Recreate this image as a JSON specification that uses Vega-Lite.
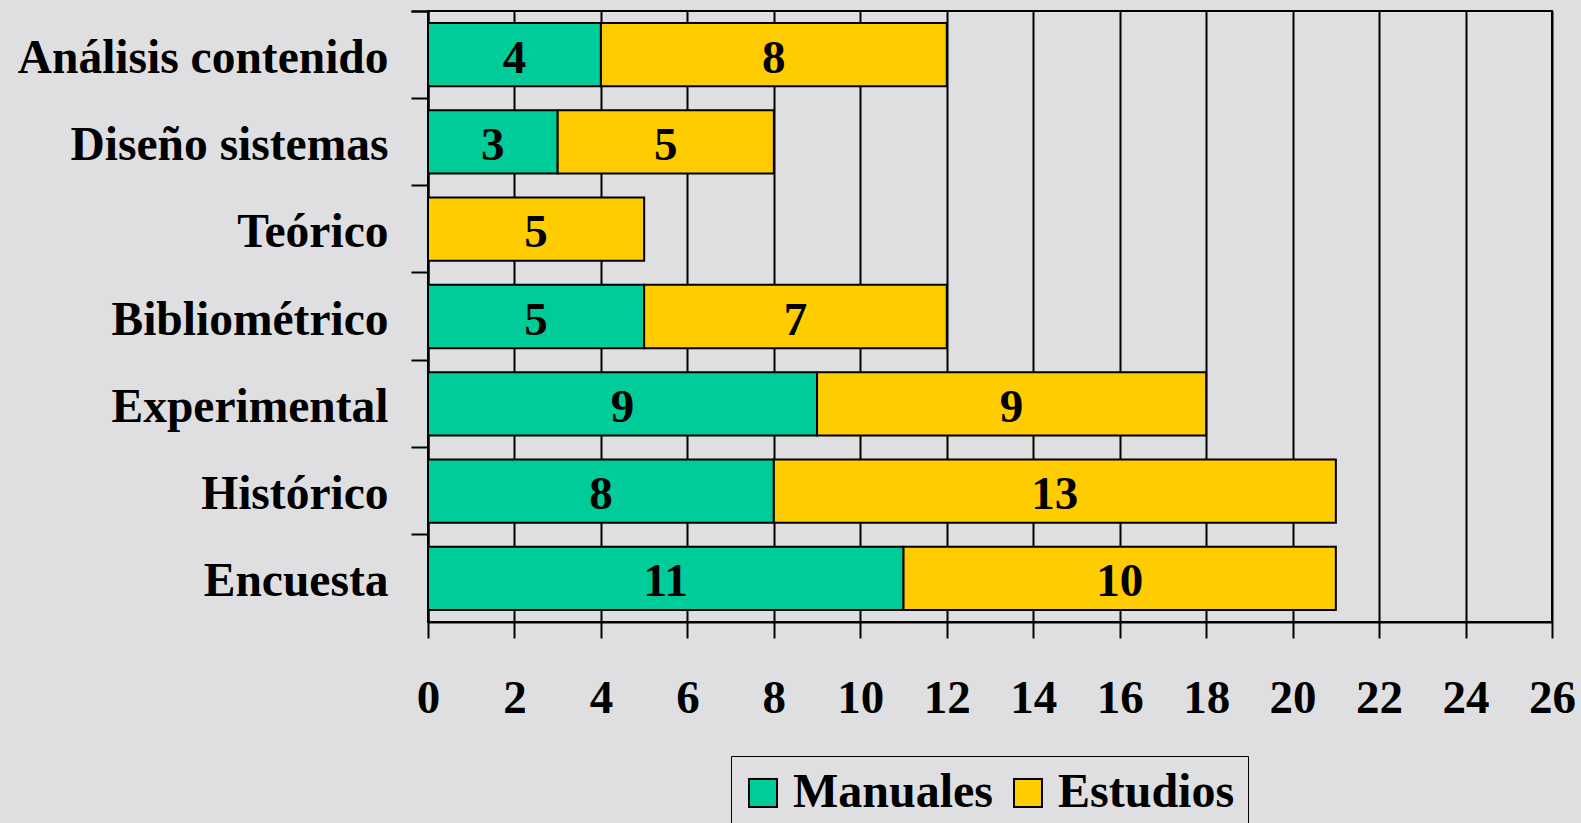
{
  "$schema": "https://vega.github.io/schema/vega-lite/v6.json",
  "width": 1124,
  "height": 611,
  "autosize": {"type": "none"},
  "padding": {"left": 428, "top": 11, "right": 29, "bottom": 201},
  "background": "#dfdfe1",
  "config": {
    "view": {"stroke": "black", "strokeWidth": 2},
    "font": "Liberation Serif"
  },
  "data": {
    "values": [
      {"metodo": "Análisis contenido", "serie": "Manuales", "n": 4},
      {"metodo": "Análisis contenido", "serie": "Estudios", "n": 8},
      {"metodo": "Diseño sistemas", "serie": "Manuales", "n": 3},
      {"metodo": "Diseño sistemas", "serie": "Estudios", "n": 5},
      {"metodo": "Teórico", "serie": "Estudios", "n": 5},
      {"metodo": "Bibliométrico", "serie": "Manuales", "n": 5},
      {"metodo": "Bibliométrico", "serie": "Estudios", "n": 7},
      {"metodo": "Experimental", "serie": "Manuales", "n": 9},
      {"metodo": "Experimental", "serie": "Estudios", "n": 9},
      {"metodo": "Histórico", "serie": "Manuales", "n": 8},
      {"metodo": "Histórico", "serie": "Estudios", "n": 13},
      {"metodo": "Encuesta", "serie": "Manuales", "n": 11},
      {"metodo": "Encuesta", "serie": "Estudios", "n": 10}
    ]
  },
  "encoding": {
    "y": {
      "field": "metodo",
      "type": "nominal",
      "sort": ["Análisis contenido", "Diseño sistemas", "Teórico", "Bibliométrico", "Experimental", "Histórico", "Encuesta"],
      "scale": {"paddingInner": 0, "paddingOuter": 0},
      "axis": {
        "title": null,
        "bandPosition": 0,
        "tickExtra": true,
        "tickSize": 17,
        "tickColor": "black",
        "tickWidth": 2,
        "domainColor": "black",
        "domainWidth": 2,
        "labelFont": "Liberation Serif",
        "labelFontSize": 47.5,
        "labelFontWeight": "bold",
        "labelColor": "black",
        "labelPadding": 23,
        "labelOffset": 4,
        "labelLimit": 600,
        "grid": false
      }
    }
  },
  "layer": [
    {
      "mark": {"type": "bar", "height": {"band": 0.725}, "stroke": "black", "strokeWidth": 2},
      "encoding": {
        "x": {
          "field": "n",
          "type": "quantitative",
          "stack": "zero",
          "scale": {"domain": [0, 26], "nice": false},
          "axis": {
            "title": null,
            "values": [0, 2, 4, 6, 8, 10, 12, 14, 16, 18, 20, 22, 24, 26],
            "grid": true,
            "gridColor": "black",
            "gridWidth": 2,
            "gridOpacity": 1,
            "tickSize": 16,
            "tickColor": "black",
            "tickWidth": 2,
            "domainColor": "black",
            "domainWidth": 2,
            "labelFont": "Liberation Serif",
            "labelFontSize": 47,
            "labelFontWeight": "bold",
            "labelColor": "black",
            "labelBaseline": "alphabetic",
            "labelPadding": 74,
            "labelFlush": false,
            "labelOverlap": false
          }
        },
        "color": {
          "field": "serie",
          "type": "nominal",
          "sort": ["Manuales", "Estudios"],
          "scale": {"domain": ["Manuales", "Estudios"], "range": ["#00cc99", "#ffcc00"]},
          "legend": {
            "orient": "none",
            "legendX": 303,
            "legendY": 745,
            "direction": "horizontal",
            "title": null,
            "symbolType": "square",
            "symbolSize": 784,
            "symbolStrokeColor": "black",
            "symbolStrokeWidth": 2,
            "symbolOpacity": 1,
            "symbolOffset": -5,
            "labelFont": "Liberation Serif",
            "labelFontSize": 48,
            "labelFontWeight": "bold",
            "labelColor": "black",
            "labelLimit": 600,
            "labelOffset": 6,
            "columnPadding": 15,
            "padding": 13,
            "strokeColor": "black",
            "fillColor": "#dfdfe1"
          }
        },
        "order": {"field": "serie", "sort": "descending"}
      }
    },
    {
      "mark": {"type": "text", "font": "Liberation Serif", "fontSize": 47, "fontWeight": "bold", "color": "black", "align": "center", "baseline": "middle", "dy": 4},
      "encoding": {
        "x": {"field": "n", "type": "quantitative", "stack": "zero", "bandPosition": 0.5},
        "detail": {"field": "serie", "type": "nominal"},
        "order": {"field": "serie", "sort": "descending"},
        "text": {"field": "n", "type": "quantitative"}
      }
    }
  ]
}
